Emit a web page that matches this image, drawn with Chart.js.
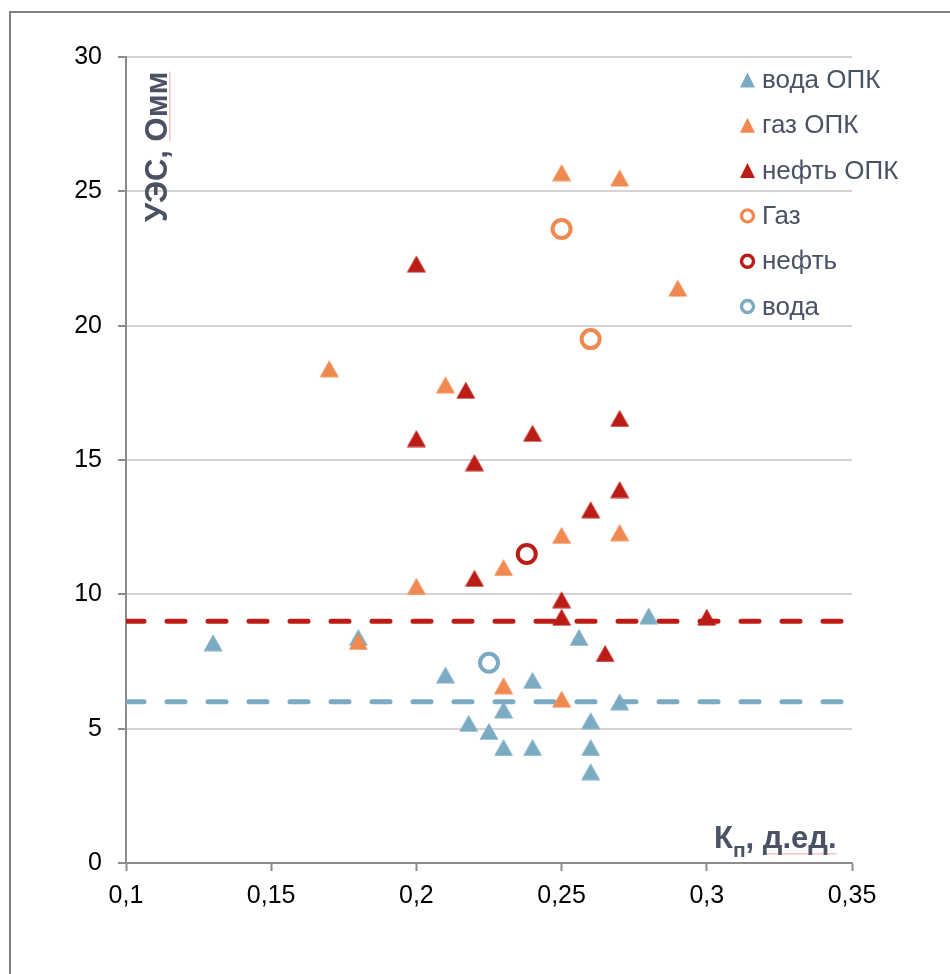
<!DOCTYPE html>
<html>
<head>
<meta charset="utf-8">
<script src="https://cdn.jsdelivr.net/npm/chart.js@4.4.1/dist/chart.umd.min.js"></script>
<style>
  html, body { margin: 0; padding: 0; background: #fff; }
  canvas { display: block; }
</style>
</head>
<body>
<canvas id="chart" width="950" height="974"></canvas>
<script>
// Kп, д.ед. / УЭС, Омм
const waterOpkX = [0.13, 0.18, 0.21, 0.218, 0.225, 0.23, 0.23, 0.24, 0.24, 0.256, 0.26, 0.26, 0.26, 0.27, 0.28]
const waterOpkY = [8.2, 8.4, 7.0, 5.2, 4.9, 5.7, 4.3, 6.8, 4.3, 8.4, 5.3, 4.3, 3.4, 6.0, 9.2]

const gasOpkX = [0.17, 0.18, 0.2, 0.21, 0.23, 0.23, 0.25, 0.25, 0.25, 0.27, 0.27, 0.29]
const gasOpkY = [18.4, 8.25, 10.3, 17.8, 11.0, 6.6, 25.7, 12.2, 6.1, 25.5, 12.3, 21.4]

const oilOpkX = [0.2, 0.2, 0.217, 0.22, 0.22, 0.24, 0.25, 0.25, 0.26, 0.265, 0.27, 0.27, 0.3]
const oilOpkY = [22.3, 15.8, 17.6, 14.9, 10.6, 16.0, 9.8, 9.15, 13.15, 7.8, 16.55, 13.9, 9.15]

const gasX = [0.25, 0.26]
const gasY = [23.6, 19.5]
const oilX = [0.238]
const oilY = [11.5]
const waterX = [0.225]
const waterY = [7.45]

// граничные значения
const cutoffX = [0.1, 0.35]
const oilCutoff = 9
const waterCutoff = 6

const xTicks = [0.1, 0.15, 0.2, 0.25, 0.3, 0.35]
const yTicks = [0, 5, 10, 15, 20, 25, 30]

const legendLabels = ["вода ОПК", "газ ОПК", "нефть ОПК", "Газ", "нефть", "вода"]

const BLUE = "#7aabc3"
const ORANGE = "#ef8950"
const RED = "#bb1d16"
const TEXT = "#4a5263"
const AXIS = "#8c8c8c"
const FONT = "'Liberation Sans', Arial, sans-serif"

function pts(xs, ys) {
  return xs.map((x, i) => ({ x: x, y: ys[i] }))
}

function triangle(color, w, h) {
  const c = document.createElement("canvas")
  c.width = w + 1
  c.height = h + 1
  const ctx = c.getContext("2d")
  ctx.fillStyle = color
  ctx.beginPath()
  ctx.moveTo(0.5, h + 0.5)
  ctx.lineTo(w + 0.5, h + 0.5)
  ctx.lineTo(w / 2 + 0.5, 0.5)
  ctx.closePath()
  ctx.fill()
  return c
}

const tri = {
  blue: triangle(BLUE, 19, 17),
  orange: triangle(ORANGE, 19, 17),
  red: triangle(RED, 19, 17),
}

function fmt(v) {
  return String(Number(v.toFixed(2))).replace(".", ",")
}

const decorations = {
  id: "decorations",
  beforeDraw(chart) {
    const ctx = chart.ctx
    ctx.save()
    ctx.fillStyle = "#fff"
    ctx.fillRect(0, 0, chart.width, chart.height)
    ctx.restore()
  },
  afterDraw(chart) {
    const ctx = chart.ctx
    ctx.save()

    // рамка
    ctx.strokeStyle = "#7f7f7f"
    ctx.lineWidth = 2
    ctx.strokeRect(10, 12, 1000, 1000)

    // подпись оси Y
    ctx.font = "bold 31px " + FONT
    ctx.save()
    ctx.translate(167, 222)
    ctx.rotate(-Math.PI / 2)
    ctx.textAlign = "left"
    ctx.textBaseline = "alphabetic"
    const yw = ctx.measureText("УЭС, Омм").width
    const ow = ctx.measureText("УЭС, ").width
    ctx.fillStyle = "#f5c4c4"
    ctx.fillRect(ow, 2, yw - ow, 1.5)
    ctx.fillStyle = TEXT
    ctx.fillText("УЭС, Омм", 0, 0)
    ctx.restore()

    // подпись оси X
    ctx.textAlign = "left"
    ctx.textBaseline = "alphabetic"
    ctx.font = "bold 31px " + FONT
    let x = 714 + ctx.measureText("К").width
    ctx.font = "bold 21px " + FONT
    const px = x
    x += ctx.measureText("п").width
    ctx.font = "bold 31px " + FONT
    const dx = x + ctx.measureText(", ").width
    const dw = ctx.measureText("д.ед.").width
    ctx.fillStyle = "#f5c4c4"
    ctx.fillRect(dx, 853, dw, 1.5)
    ctx.fillStyle = TEXT
    ctx.fillText("К", 714, 848)
    ctx.fillText(", д.ед.", x, 848)
    ctx.font = "bold 21px " + FONT
    ctx.fillText("п", px, 857)

    // легенда
    const markers = [
      { type: "tri", color: BLUE },
      { type: "tri", color: ORANGE },
      { type: "tri", color: RED },
      { type: "ring", color: ORANGE },
      { type: "ring", color: RED },
      { type: "ring", color: BLUE },
    ]
    ctx.font = "26px " + FONT
    ctx.textBaseline = "middle"
    markers.forEach((m, i) => {
      const cy = 80 + i * 45.3
      if (m.type === "tri") {
        ctx.fillStyle = m.color
        ctx.beginPath()
        ctx.moveTo(740, cy + 7.5)
        ctx.lineTo(755, cy + 7.5)
        ctx.lineTo(747.5, cy - 7.5)
        ctx.closePath()
        ctx.fill()
      } else {
        ctx.strokeStyle = m.color
        ctx.lineWidth = 3.4
        ctx.beginPath()
        ctx.arc(747.5, cy, 6, 0, Math.PI * 2)
        ctx.stroke()
      }
      ctx.fillStyle = TEXT
      ctx.fillText(legendLabels[i], 762, cy + 1)
    })

    ctx.restore()
  },
}

function ring(label, color, data) {
  return {
    label: label,
    data: data,
    pointStyle: "circle",
    pointRadius: 9,
    pointHoverRadius: 9,
    borderWidth: 4,
    borderColor: color,
    backgroundColor: "#fff",
    order: 0,
  }
}

function opk(label, img, data, order) {
  return {
    label: label,
    data: data,
    pointStyle: img,
    pointRadius: 10,
    pointHoverRadius: 10,
    order: order,
  }
}

function cutoff(color, value) {
  return {
    type: "line",
    data: pts(cutoffX, cutoffX.map(() => value)),
    borderColor: color,
    borderWidth: 5,
    borderDash: [18, 23],
    borderCapStyle: "round",
    pointRadius: 0,
    fill: false,
    order: 10,
  }
}

new Chart(document.getElementById("chart"), {
  type: "scatter",
  data: {
    datasets: [
      opk(legendLabels[0], tri.blue, pts(waterOpkX, waterOpkY), 3),
      opk(legendLabels[1], tri.orange, pts(gasOpkX, gasOpkY), 2),
      opk(legendLabels[2], tri.red, pts(oilOpkX, oilOpkY), 1),
      ring(legendLabels[3], ORANGE, pts(gasX, gasY)),
      ring(legendLabels[4], RED, pts(oilX, oilY)),
      ring(legendLabels[5], BLUE, pts(waterX, waterY)),
      cutoff(RED, oilCutoff),
      cutoff(BLUE, waterCutoff),
    ],
  },
  options: {
    responsive: false,
    animation: false,
    events: [],
    layout: { padding: { left: 0, top: 57, right: 98, bottom: 0 } },
    plugins: {
      legend: { display: false },
      tooltip: { enabled: false },
    },
    scales: {
      x: {
        type: "linear",
        min: 0.1,
        max: 0.35,
        afterBuildTicks: (scale) => {
          scale.ticks = xTicks.map((v) => ({ value: v }))
        },
        afterFit: (scale) => {
          scale.height = 974 - 863
        },
        ticks: {
          color: "#000",
          padding: 10,
          maxRotation: 0,
          font: { family: FONT, size: 25 },
          callback: (v) => fmt(v),
        },
        grid: {
          drawOnChartArea: false,
          tickColor: AXIS,
          tickWidth: 2,
          tickLength: 8,
        },
        border: { color: AXIS, width: 2 },
      },
      y: {
        type: "linear",
        min: 0,
        max: 30,
        afterBuildTicks: (scale) => {
          scale.ticks = yTicks.map((v) => ({ value: v }))
        },
        afterFit: (scale) => {
          scale.width = 126
        },
        ticks: {
          color: "#000",
          padding: 16,
          font: { family: FONT, size: 25 },
          callback: (v) => fmt(v),
        },
        grid: {
          color: "#d8d2d2",
          lineWidth: 2,
          tickColor: AXIS,
          tickWidth: 2,
          tickLength: 8,
        },
        border: { color: AXIS, width: 2 },
      },
    },
  },
  plugins: [decorations],
})
</script>
</body>
</html>
